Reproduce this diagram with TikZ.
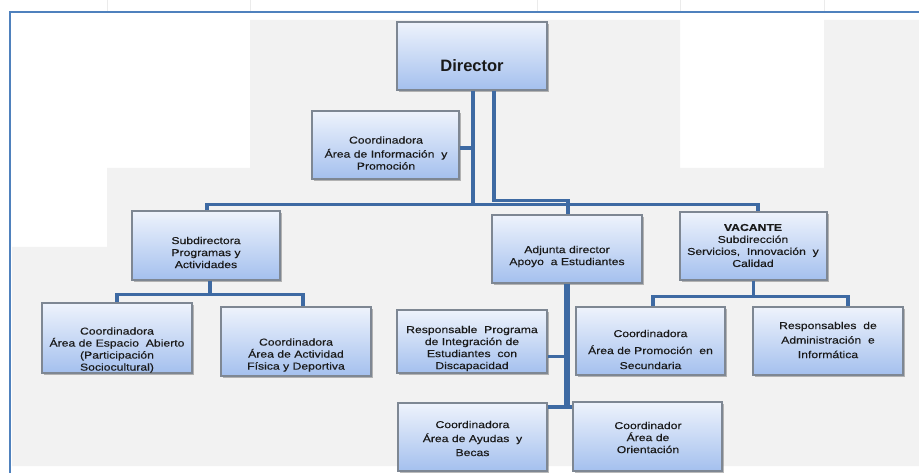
\documentclass[tikz,border=0pt]{standalone}
\usepackage{fontspec}
\setmainfont{Liberation Sans}
\newfontfamily\boxfont{Liberation Sans}[FakeStretch=1.22, FakeBold=0.35]
\usetikzlibrary{shadows,calc}
\definecolor{framecol}{HTML}{4F81BD}
\definecolor{bgcol}{HTML}{F2F2F2}
\definecolor{boxtop}{HTML}{EEF3FC}
\definecolor{boxbot}{HTML}{A4C0EE}
\definecolor{boxline}{HTML}{7E8793}
\definecolor{conncol}{HTML}{3E6AA3}
\definecolor{txtcol}{HTML}{1A1A1A}
\tikzset{
  orgbox/.style={rectangle, draw=boxline, line width=1.1pt, top color=boxtop, bottom color=boxbot,
    inner sep=0pt, drop shadow={shadow xshift=2pt, shadow yshift=-2pt, opacity=0.45, fill=black!60}},
  conn/.style={draw=conncol, line width=3.8pt, line join=miter},
  boxtxt/.style={align=center, inner sep=0pt, text=txtcol, font=\boxfont\fontsize{10}{12}\selectfont},
}
\begin{document}
\begin{tikzpicture}[x=1pt, y=-1pt]
\useasboundingbox (0,0) rectangle (919,473);
\fill[white] (0,0) rectangle (919,473);
% gray background
\fill[bgcol] (250,20) -- (680,20) -- (680,168) -- (824,168) -- (824,20) -- (919,20) -- (919,466)
  -- (12,466) -- (12,247) -- (107,247) -- (107,168) -- (250,168) -- cycle;
% faint grid ticks
\foreach \gx in {107,250,537,680,824} \draw[black!8, line width=0.6pt] (\gx,0) -- (\gx,12);
% frame
\draw[framecol, line width=2pt] (919,12) -- (10,12) -- (10,473);

% boxes
\node[orgbox, minimum width=150pt, minimum height=68pt] (dir)  at (472,56) {};
\node[orgbox, minimum width=147pt, minimum height=68pt] (info) at (385.5,145) {};
\node[orgbox, minimum width=148pt, minimum height=69pt] (sub)  at (206,245.5) {};
\node[orgbox, minimum width=150pt, minimum height=68pt] (adj)  at (567,249) {};
\node[orgbox, minimum width=147pt, minimum height=68pt] (vac)  at (753.5,246) {};
\node[orgbox, minimum width=150pt, minimum height=70pt] (esp)  at (117,338) {};
\node[orgbox, minimum width=150pt, minimum height=69pt] (act)  at (296,341.5) {};
\node[orgbox, minimum width=150pt, minimum height=63pt] (resp) at (472,341.5) {};
\node[orgbox, minimum width=149pt, minimum height=68pt] (prom) at (650.5,341) {};
\node[orgbox, minimum width=150pt, minimum height=68pt] (adm)  at (828,341) {};
\node[orgbox, minimum width=149pt, minimum height=68pt] (ayu)  at (472.5,437) {};
\node[orgbox, minimum width=149pt, minimum height=69pt] (ori)  at (647.5,436.5) {};

% connectors
\draw[conn] ([xshift=1pt]dir.south) -- ++(0,115);
\draw[conn] ([xshift=1pt]sub.north) -- ++(0,-6) -| ([xshift=4.5pt]vac.north);
\draw[conn] ([xshift=22pt]dir.south) -- ++(0,110) -| ([xshift=1pt]adj.north);
\draw[conn] ([yshift=-3pt]info.east) -- ([yshift=-3pt]info.east -| dir.south);
\draw[conn] ([xshift=4pt]sub.south) -- ++(0,14) -| (esp.north);
\draw[conn] ([xshift=4pt]sub.south) -- ++(0,14) -| ([xshift=7pt]act.north);
\draw[conn, line width=5.5pt] (adj.south) -- ++(0,125);
\draw[conn] ([yshift=-15pt]resp.east) -- ([yshift=-15pt]resp.east -| adj.south);
\draw[conn] ([yshift=30pt]ayu.east) -- ([yshift=30pt]ayu.east -| ori.west);
\draw[conn] (vac.south) -- ++(0,16) -| ([xshift=2.5pt]prom.north);
\draw[conn] (vac.south) -- ++(0,16) -| ([xshift=20pt]adm.north);

% texts
\node[boxtxt, font=\bfseries\fontsize{16.5}{18}\selectfont] (tdir) at (472,66) {Director};
\node[boxtxt] (tinfo) at (386,153) {Coordinadora\\[2pt] Área de Información~ y\\ Promoción};
\node[boxtxt] (tsub) at (206,252.5) {Subdirectora\\ Programas y\\ Actividades};
\node[boxtxt] (tadj) at (567,256.5) {Adjunta director\\ Apoyo~ a Estudiantes};
\node[boxtxt] (tvac) at (753,245.5) {\textbf{VACANTE}\\ Subdirección\\ Servicios,~ Innovación~ y\\ Calidad};
\node[boxtxt] (tesp) at (117,350) {Coordinadora\\ Área de Espacio~ Abierto\\ (Participación\\ Sociocultural)};
\node[boxtxt] (tact) at (296,355) {Coordinadora\\ Área de Actividad\\ Física y Deportiva};
\node[boxtxt] (tresp) at (472,348.5) {Responsable~ Programa\\ de Integración de\\ Estudiantes~ con\\ Discapacidad};
\node[boxtxt] (tprom) at (650.5,349.5) {Coordinadora\\[5pt] Área de Promoción~ en\\[3pt] Secundaria};
\node[boxtxt] (tadm) at (828,340) {Responsables~ de\\[2.5pt] Administración~ e\\[2.5pt] Informática};
\node[boxtxt] (tayu) at (472.5,438.5) {Coordinadora\\[2pt] Área de Ayudas~ y\\[2pt] Becas};
\node[boxtxt] (tori) at (648,437.5) {Coordinador\\ Área de\\ Orientación};
\end{tikzpicture}
\end{document}
